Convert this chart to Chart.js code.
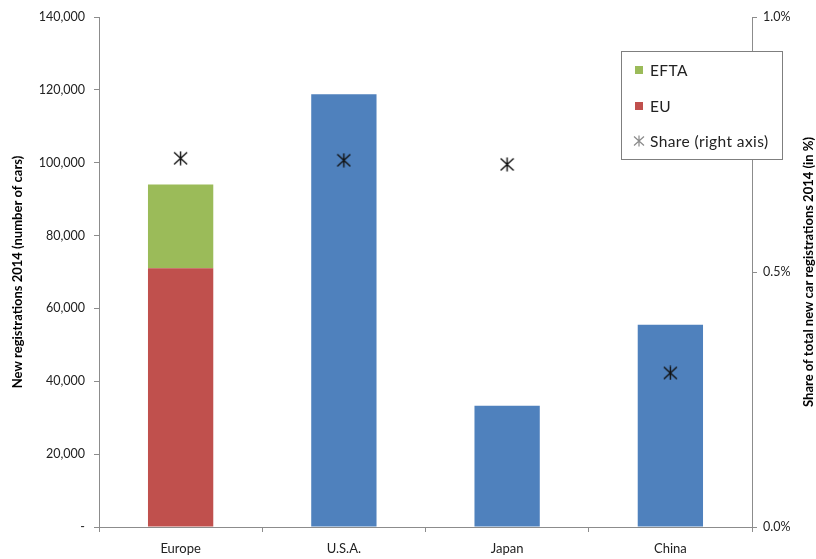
<!DOCTYPE html>
<html>
<head>
<meta charset="utf-8">
<script src="https://cdn.jsdelivr.net/npm/chart.js@4"></script>
<style>
html, body { margin: 0; padding: 0; background: #fff; }
#wrap { width: 816px; height: 559px; }
</style>
</head>
<body>
<div id="wrap"><canvas id="regChart" width="816" height="559"></canvas></div>
<script>
// Electric car registrations 2014 by region
const regions = ['Europe', 'U.S.A.', 'Japan', 'China'];
const euCars = [71000, null, null, null];
const eftaCars = [23000, null, null, null];
const otherCars = [null, 118800, 33300, 55500];
const sharePct = [0.723, 0.719, 0.711, 0.302];
const leftTicks = [0, 20000, 40000, 60000, 80000, 100000, 120000, 140000];
const rightTicks = [0, 0.5, 1.0];

const FONT = 'Lato, "Open Sans", sans-serif';
const AXIS_GREY = '#8c8c8c';
const TEXT = '#222';

// six-armed asterisk marker (X plus vertical stroke)
function makeStar(size, color, lw) {
    const c = document.createElement('canvas');
    c.width = size; c.height = size;
    const g = c.getContext('2d');
    const m = size / 2;
    g.strokeStyle = color;
    g.lineWidth = lw;
    g.beginPath();
    g.moveTo(m, 0.5); g.lineTo(m, size - 0.5);
    g.moveTo(1, 1.5); g.lineTo(size - 1, size - 1.5);
    g.moveTo(size - 1, 1.5); g.lineTo(1, size - 1.5);
    g.stroke();
    return c;
}
const starMark = makeStar(15, '#111', 1.4);
const starLegend = makeStar(12, '#8a8a8a', 1.2);

// legend box inside the plot + right axis title reading bottom-to-top
const overlayPlugin = {
    id: 'overlay',
    afterDraw(chart) {
        const ctx = chart.ctx;
        const area = chart.chartArea;
        ctx.save();

        // legend
        const bx = 621, by = 51, bw = 161, bh = 108;
        ctx.fillStyle = '#fff';
        ctx.fillRect(bx, by, bw, bh);
        ctx.strokeStyle = '#7f7f7f';
        ctx.lineWidth = 1;
        ctx.strokeRect(bx + 0.5, by + 0.5, bw, bh);

        ctx.font = '15.5px ' + FONT;
        ctx.letterSpacing = '0.4px';
        ctx.textBaseline = 'middle';
        ctx.textAlign = 'left';
        const items = [
            { label: 'EFTA', color: '#9BBB59', y: 70 },
            { label: 'EU', color: '#C0504D', y: 106 },
            { label: 'Share (right axis)', star: true, y: 141 }
        ];
        items.forEach(it => {
            if (it.star) {
                ctx.drawImage(starLegend, 633, it.y - 6);
            } else {
                ctx.fillStyle = it.color;
                ctx.fillRect(635, it.y - 4, 8, 8);
            }
            ctx.fillStyle = TEXT;
            ctx.fillText(it.label, 650, it.y + 1);
        });
        ctx.letterSpacing = '0px';

        // right axis title
        ctx.translate(809, (area.top + area.bottom) / 2);
        ctx.rotate(-Math.PI / 2);
        ctx.textAlign = 'center';
        ctx.font = 'bold 13px ' + FONT;
        ctx.fillStyle = '#000';
        ctx.fillText('Share of total new car registrations 2014 (in %)', 0, 0);
        ctx.restore();
    }
};

const ctx = document.getElementById('regChart').getContext('2d');
const regChart = new Chart(ctx, {
    data: {
        labels: regions,
        datasets: [
            {
                type: 'line',
                label: 'Share (right axis)',
                data: sharePct,
                yAxisID: 'y1',
                showLine: false,
                pointStyle: starMark,
                pointRadius: 7,
                order: 0
            },
            {
                type: 'bar',
                label: 'EU',
                data: euCars,
                backgroundColor: '#C0504D',
                yAxisID: 'y',
                order: 1
            },
            {
                type: 'bar',
                label: 'EFTA',
                data: eftaCars,
                backgroundColor: '#9BBB59',
                yAxisID: 'y',
                order: 1
            },
            {
                type: 'bar',
                label: 'Total',
                data: otherCars,
                backgroundColor: '#4F81BD',
                yAxisID: 'y',
                order: 1
            }
        ]
    },
    options: {
        responsive: false,
        animation: false,
        layout: { padding: { top: 17, left: 0, right: 0, bottom: 0 } },
        datasets: {
            bar: { categoryPercentage: 1.0, barPercentage: 0.4 }
        },
        plugins: {
            legend: { display: false },
            tooltip: { enabled: false }
        },
        scales: {
            x: {
                stacked: true,
                afterFit(scale) { scale.height = 32; },
                border: { color: AXIS_GREY },
                grid: {
                    offset: true,
                    drawOnChartArea: false,
                    drawTicks: true,
                    tickLength: 5,
                    color: AXIS_GREY
                },
                ticks: { color: TEXT, font: { family: FONT, size: 13 }, padding: 9 }
            },
            y: {
                stacked: true,
                position: 'left',
                min: 0,
                max: 140000,
                afterFit(scale) { scale.width = 99; },
                afterBuildTicks(scale) { scale.ticks = leftTicks.map(v => ({ value: v })); },
                border: { color: AXIS_GREY },
                grid: { drawOnChartArea: false, tickLength: 5, color: AXIS_GREY },
                ticks: {
                    color: TEXT,
                    padding: 9,
                    font: { family: FONT, size: 12.5 },
                    callback: v => v === 0 ? '-' : v.toLocaleString('en-US')
                },
                title: {
                    display: true,
                    text: 'New registrations 2014 (number of cars)',
                    color: '#000',
                    font: { family: FONT, size: 13, weight: 'bold' },
                    padding: { top: 10, bottom: 0 }
                }
            },
            y1: {
                position: 'right',
                stacked: false,
                min: 0,
                max: 1,
                afterFit(scale) { scale.width = 64; },
                afterBuildTicks(scale) { scale.ticks = rightTicks.map(v => ({ value: v })); },
                border: { color: AXIS_GREY },
                grid: { drawOnChartArea: false, tickLength: 5, color: AXIS_GREY },
                ticks: {
                    color: TEXT,
                    padding: 6,
                    font: { family: FONT, size: 12.5 },
                    callback: v => v.toFixed(1) + '%'
                }
            }
        }
    },
    plugins: [overlayPlugin]
});
</script>
</body>
</html>
